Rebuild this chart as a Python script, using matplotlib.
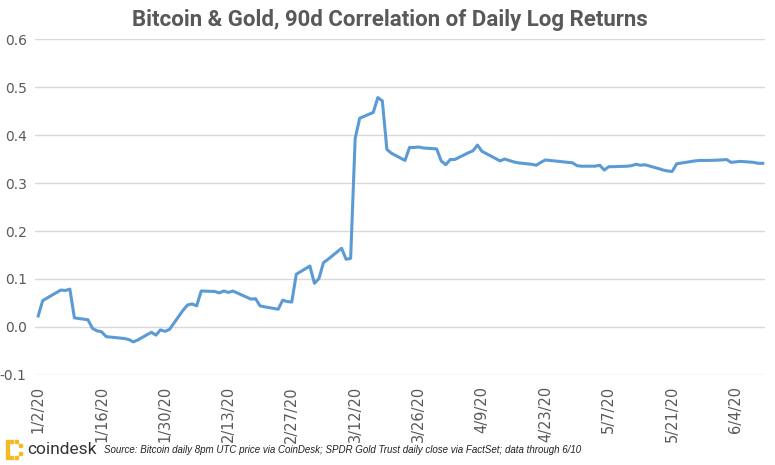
import numpy as np
import pandas as pd
import matplotlib
matplotlib.use("Agg")
import matplotlib.pyplot as plt
import matplotlib.dates as mdates
from matplotlib.patches import Rectangle

# trading-day dates (2020) and 90d correlation values
dates = ["1/2", "1/3", "1/7", "1/8", "1/9", "1/10", "1/13", "1/14", "1/15", "1/16",
         "1/17", "1/21", "1/22", "1/23", "1/24", "1/27", "1/28", "1/29", "1/30", "1/31",
         "2/3", "2/4", "2/5", "2/6", "2/7", "2/10", "2/11", "2/12", "2/13", "2/14",
         "2/18", "2/19", "2/20", "2/21", "2/24", "2/25", "2/26", "2/27", "2/28",
         "3/2", "3/3", "3/4", "3/5", "3/6", "3/9", "3/10", "3/11", "3/12", "3/13",
         "3/16", "3/17", "3/18", "3/19", "3/20", "3/23", "3/24", "3/25", "3/26", "3/27",
         "3/30", "3/31", "4/1", "4/2", "4/3", "4/6", "4/7", "4/8", "4/9",
         "4/13", "4/14", "4/15", "4/16", "4/17", "4/20", "4/21", "4/22", "4/23", "4/24",
         "4/27", "4/28", "4/29", "4/30", "5/1", "5/4", "5/5", "5/6", "5/7", "5/8",
         "5/11", "5/12", "5/13", "5/14", "5/15", "5/18", "5/19", "5/20", "5/21", "5/22",
         "5/26", "5/27", "5/28", "5/29", "6/1", "6/2", "6/3", "6/4", "6/5", "6/8", "6/9", "6/10"]
corr = [0.023, 0.055, 0.077, 0.076, 0.079, 0.019, 0.015, -0.003, -0.008, -0.010,
        -0.020, -0.024, -0.026, -0.031, -0.027, -0.011, -0.017, -0.006, -0.009, -0.005,
        0.035, 0.046, 0.048, 0.044, 0.075, 0.074, 0.071, 0.075, 0.072, 0.075,
        0.058, 0.059, 0.044, 0.042, 0.037, 0.056, 0.053, 0.052, 0.110,
        0.127, 0.091, 0.101, 0.134, 0.141, 0.164, 0.141, 0.143, 0.393, 0.435,
        0.447, 0.478, 0.471, 0.370, 0.362, 0.347, 0.374, 0.374, 0.375, 0.373,
        0.371, 0.346, 0.338, 0.349, 0.349, 0.363, 0.367, 0.379, 0.366,
        0.346, 0.350, 0.347, 0.344, 0.342, 0.339, 0.337, 0.343, 0.348, 0.347,
        0.344, 0.343, 0.342, 0.336, 0.335, 0.335, 0.337, 0.327, 0.334, 0.334,
        0.335, 0.336, 0.339, 0.337, 0.338, 0.330, 0.327, 0.325, 0.324, 0.340,
        0.346, 0.347, 0.347, 0.347, 0.348, 0.349, 0.343, 0.344, 0.345, 0.343, 0.341, 0.341]

tick_labels = ["1/2/20", "1/16/20", "1/30/20", "2/13/20", "2/27/20", "3/12/20",
               "3/26/20", "4/9/20", "4/23/20", "5/7/20", "5/21/20", "6/4/20"]
y_ticks = [-0.1, 0.0, 0.1, 0.2, 0.3, 0.4, 0.5, 0.6]

x = pd.to_datetime([d + "/2020" for d in dates], format="%m/%d/%Y")
xt = pd.to_datetime(tick_labels, format="%m/%d/%y")

grey = "#595959"
fig = plt.figure(figsize=(7.75, 4.65), dpi=100)
ax = fig.add_axes([35 / 775, 1 - 375 / 465, 730 / 775, 336 / 465])

ax.plot(x, corr, color="#5B9BD5", lw=2.2, solid_joinstyle="round")

ax.set_ylim(-0.1, 0.6)
ax.set_yticks(y_ticks)
ax.set_yticklabels(["%.1f" % v for v in y_ticks])
ax.set_xlim(xt[0] - pd.Timedelta(days=0.7), x[-1] + pd.Timedelta(days=0.5))
ax.set_xticks(xt)
ax.set_xticklabels(tick_labels, rotation=90)
ax.grid(axis="y", color="#D9D9D9", lw=1.0)
ax.set_axisbelow(True)
for s in ax.spines.values():
    s.set_visible(False)
ax.tick_params(length=0, colors=grey, labelsize=10.5)
ax.tick_params(axis="x", pad=8)
ax.tick_params(axis="y", pad=6, labelsize=10)

fig.text(0.503, 1 - 20 / 465, "Bitcoin & Gold, 90d Correlation of Daily Log Returns",
         ha="center", va="center", fontsize=16, fontweight="bold", color=grey,
         family=["Roboto", "DejaVu Sans"])

# coindesk logo squares
lc = "#F5B921"
sq = 3.2
for (px, py) in [(6, 440), (6, 444), (6, 448), (6, 452), (6, 456), (10, 440), (10, 456),
                 (19, 444), (19, 452), (15, 440), (15, 456)]:
    fig.patches.append(Rectangle((px / 775, 1 - (py + sq) / 465), sq / 775, sq / 465,
                                 transform=fig.transFigure, color=lc))
fig.text(27 / 775, 1 - 449 / 465, "coindesk", ha="left", va="center", fontsize=12.5,
         color="#333333", family=["Roboto", "DejaVu Sans"])
fig.text(104 / 775, 1 - 450 / 465,
         "Source: Bitcoin daily 8pm UTC price via CoinDesk; SPDR Gold Trust daily close via FactSet; data through 6/10",
         ha="left", va="center", fontsize=7.0, style="italic", color="#222222",
         family=["Liberation Sans Narrow", "Liberation Sans", "DejaVu Sans"])

fig.savefig("out.png", dpi=100)
